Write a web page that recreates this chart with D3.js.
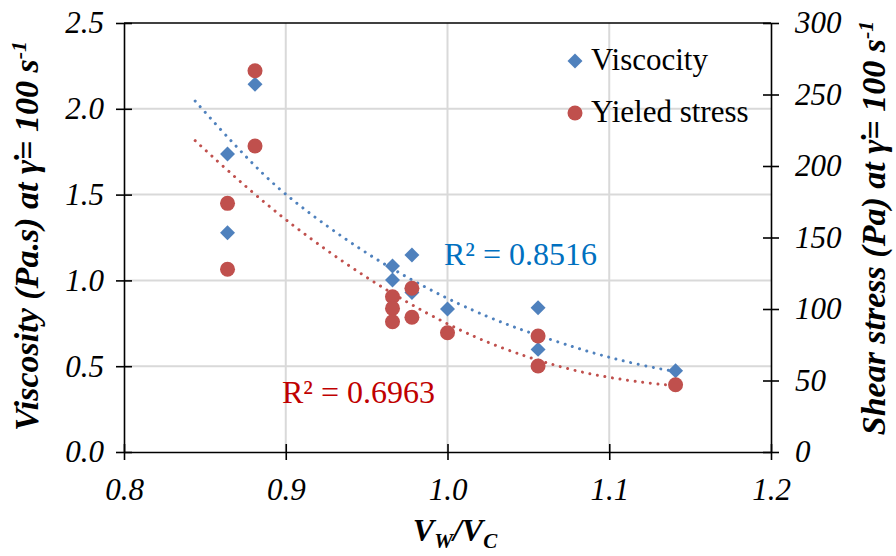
<!DOCTYPE html>
<html><head><meta charset="utf-8">
<script src="https://cdn.jsdelivr.net/npm/d3@7"></script>
<style>body{margin:0;background:#fff}svg{display:block}text{font-family:"Liberation Serif","Times New Roman",serif}</style>
</head><body><svg id="c" width="896" height="556"></svg>
<script>
// ---- data ----
const xTicks = [0.8, 0.9, 1.0, 1.1, 1.2];
const yLeftTicks = [0, 0.5, 1.0, 1.5, 2.0, 2.5];
const yRightTicks = [0, 50, 100, 150, 200, 250, 300];
const viscX = [0.864, 0.864, 0.881, 0.966, 0.966, 0.978, 0.978, 1.000, 1.056, 1.056, 1.141];
const viscY = [1.737, 1.278, 2.143, 1.084, 1.002, 1.148, 0.930, 0.833, 0.841, 0.598, 0.474];
const stressX = [0.864, 0.864, 0.881, 0.881, 0.966, 0.966, 0.966, 0.978, 0.978, 1.000, 1.056, 1.056, 1.141];
const stressY = [173.9, 127.8, 266.6, 214.0, 108.6, 100.4, 91.1, 114.5, 94.2, 83.4, 81.1, 60.1, 47.0];
// trend lines (viscosity in Pa.s, stress in Pa)
const trendViscX = [0.844, 0.861, 0.875, 0.889, 0.908, 0.952, 1.000, 1.033, 1.051, 1.080, 1.099, 1.119, 1.141];
const trendViscY = [2.045, 1.865, 1.725, 1.590, 1.435, 1.135, 0.888, 0.755, 0.695, 0.605, 0.553, 0.507, 0.468];
const trendStressX = [0.844, 0.863, 0.882, 0.906, 0.952, 1.000, 1.033, 1.062, 1.092, 1.132, 1.141];
const trendStressY = [217.7, 197.9, 179.0, 156.6, 119.4, 88.6, 72.6, 61.8, 53.0, 47.0, 46.6];
const seriesNames = ["Viscocity", "Yieled stress"];
const r2Labels = ["R² = 0.8516", "R² = 0.6963"];

const svg = d3.select("#c");
const L = 124, R = 771, T = 23, B = 452;
const x = d3.scaleLinear().domain([0.8, 1.2]).range([L, R]);
const yL = d3.scaleLinear().domain([0, 2.5]).range([B, T]);
const yR = d3.scaleLinear().domain([0, 300]).range([B, T]);
const blue = "#4f81bd", red = "#c0504d";

// grid
svg.append("g").selectAll("line").data(xTicks.slice(1, -1)).join("line")
  .attr("x1", d => x(d)).attr("x2", d => x(d)).attr("y1", T).attr("y2", B)
  .attr("stroke", "#d9d9d9").attr("stroke-width", 2);
svg.append("g").selectAll("line").data(yLeftTicks.slice(1)).join("line")
  .attr("x1", L).attr("x2", R).attr("y1", d => yL(d)).attr("y2", d => yL(d))
  .attr("stroke", d => d === 2.5 ? "#000" : "#d9d9d9").attr("stroke-width", d => d === 2.5 ? 1.5 : 2);

// axes
const tk = 8;
function styleAxis(g) {
  g.selectAll("path").attr("stroke", "#000").attr("stroke-width", 1.6);
  g.selectAll(".tick line").attr("stroke", "#000").attr("stroke-width", 1.6);
  g.selectAll(".tick text").style("font-style", "italic").style("font-size", "31px").attr("fill", "#000");
}
const gx = svg.append("g").attr("transform", `translate(0,${B})`)
  .call(d3.axisBottom(x).tickValues(xTicks).tickFormat(d3.format(".1f")).tickSizeInner(tk).tickSizeOuter(0).tickPadding(18));
styleAxis(gx);
gx.selectAll(".tick line").attr("y1", -tk);
const gl = svg.append("g").attr("transform", `translate(${L},0)`)
  .call(d3.axisLeft(yL).tickValues(yLeftTicks).tickFormat(d3.format(".1f")).tickSizeInner(tk).tickSizeOuter(0).tickPadding(12));
styleAxis(gl);
gl.selectAll(".tick line").attr("x1", tk);
const gr = svg.append("g").attr("transform", `translate(${R},0)`)
  .call(d3.axisRight(yR).tickValues(yRightTicks).tickFormat(d3.format("d")).tickSizeInner(tk).tickSizeOuter(0).tickPadding(16));
styleAxis(gr);
gr.selectAll(".tick line").attr("x1", -tk);

// dotted trend lines
function trend(xs, ys, yScale, color) {
  const line = d3.line().x(d => x(d[0])).y(d => yScale(d[1])).curve(d3.curveBasis);
  svg.append("path").attr("d", line(xs.map((v, i) => [v, ys[i]])))
    .attr("fill", "none").attr("stroke", color).attr("stroke-width", 3)
    .attr("stroke-linecap", "round").attr("stroke-dasharray", "0.01 7.6");
}
trend(trendViscX, trendViscY, yL, blue);
trend(trendStressX, trendStressY, yR, red);

// markers
const diamond = d3.symbol().type(d3.symbolSquare).size(112);
const circle = d3.symbol().type(d3.symbolCircle).size(177);
svg.append("g").selectAll("path").data(viscX.map((v, i) => [v, viscY[i]])).join("path")
  .attr("d", diamond).attr("fill", blue)
  .attr("transform", d => `translate(${x(d[0])},${yL(d[1])}) rotate(45)`);
svg.append("g").selectAll("path").data(stressX.map((v, i) => [v, stressY[i]])).join("path")
  .attr("d", circle).attr("fill", red)
  .attr("transform", d => `translate(${x(d[0])},${yR(d[1])})`);

// R² labels
svg.append("text").attr("x", 444).attr("y", 265).attr("fill", "#0070c0").style("font-size", "32px").text(r2Labels[0]);
svg.append("text").attr("x", 282).attr("y", 403).attr("fill", "#c00000").style("font-size", "32px").text(r2Labels[1]);

// legend
const lg = svg.append("g");
lg.append("path").attr("d", diamond).attr("fill", blue).attr("transform", "translate(575,61) rotate(45)");
lg.append("path").attr("d", circle).attr("fill", red).attr("transform", "translate(575,113)");
lg.append("text").attr("x", 591).attr("y", 70).style("font-size", "31px").text(seriesNames[0]);
lg.append("text").attr("x", 591).attr("y", 122).style("font-size", "31px").text(seriesNames[1]);

// axis titles
function title(g, main) {
  const t = g.append("text").attr("text-anchor", "middle").style("font-weight", "bold").style("font-style", "italic").style("font-size", "34px");
  t.append("tspan").text(main + " at γ̇= 100 s");
  t.append("tspan").attr("dy", -12).style("font-size", "22px").text("-1");
  return t;
}
title(svg.append("g").attr("transform", "translate(38,236) rotate(-90)"), "Viscosity (Pa.s)");
title(svg.append("g").attr("transform", "translate(885,228) rotate(-90)"), "Shear stress (Pa)");
const xt = svg.append("text").attr("x", 455).attr("y", 541).attr("text-anchor", "middle")
  .style("font-weight", "bold").style("font-style", "italic").style("font-size", "32px");
xt.append("tspan").text("V");
xt.append("tspan").attr("dy", 7).style("font-size", "21px").text("W");
xt.append("tspan").attr("dy", -7).text("/V");
xt.append("tspan").attr("dy", 7).style("font-size", "21px").text("C");
</script></body></html>
